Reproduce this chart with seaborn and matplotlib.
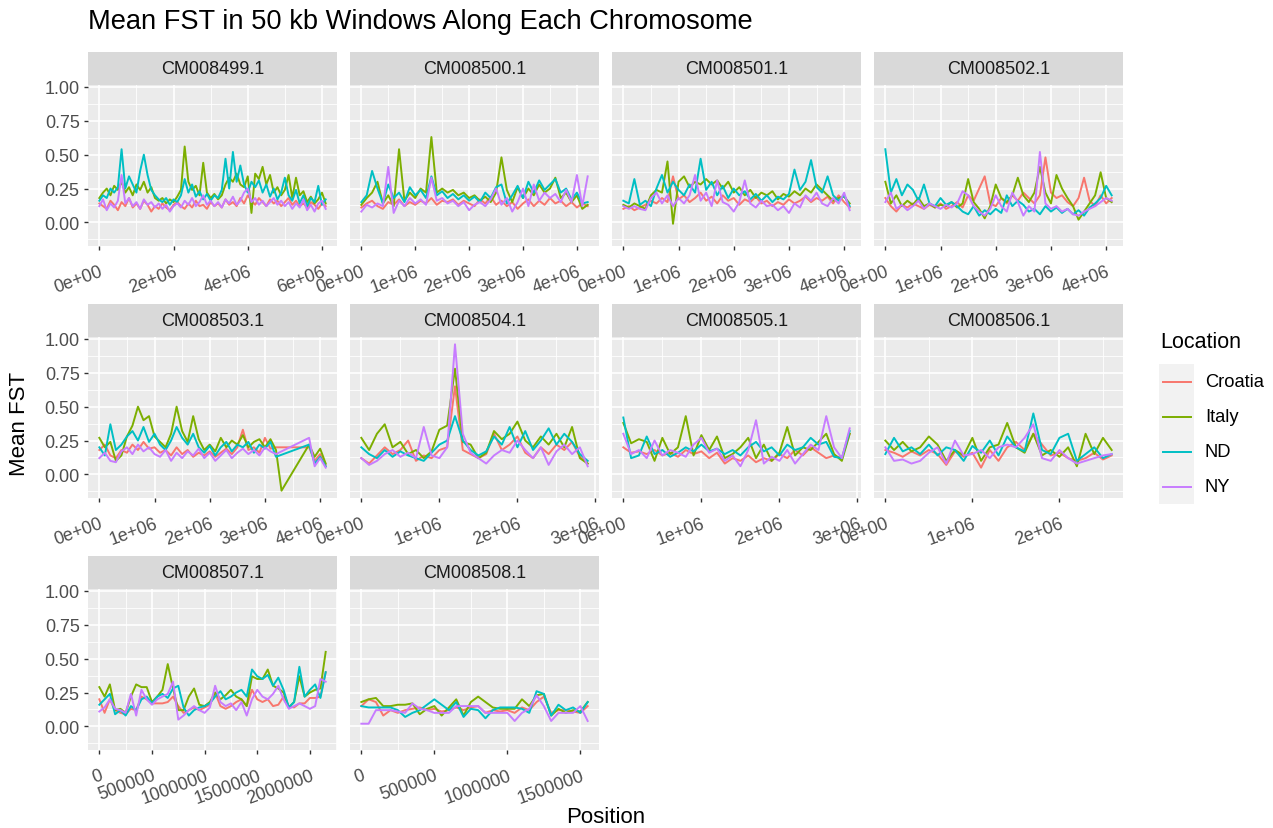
import numpy as np
import pandas as pd
import matplotlib
matplotlib.use("Agg")
import matplotlib.pyplot as plt
import seaborn as sns

plt.rcParams['font.family'] = ['Liberation Sans', 'DejaVu Sans']

# ---------------- data ----------------
CHROMS = ["CM008499.1", "CM008500.1", "CM008501.1", "CM008502.1", "CM008503.1",
          "CM008504.1", "CM008505.1", "CM008506.1", "CM008507.1", "CM008508.1"]
LOCATIONS = ["Croatia", "Italy", "ND", "NY"]
WINDOW_STEP = [100000, 100000, 100000, 100000, 100000,
               100000, 100000, 100000, 50000, 50000]

XTICK_LABELS = [
    ["0e+00", "2e+06", "4e+06", "6e+06"],
    ["0e+00", "1e+06", "2e+06", "3e+06", "4e+06"],
    ["0e+00", "1e+06", "2e+06", "3e+06", "4e+06"],
    ["0e+00", "1e+06", "2e+06", "3e+06", "4e+06"],
    ["0e+00", "1e+06", "2e+06", "3e+06", "4e+06"],
    ["0e+00", "1e+06", "2e+06", "3e+06"],
    ["0e+00", "1e+06", "2e+06", "3e+06"],
    ["0e+00", "1e+06", "2e+06"],
    ["0", "500000", "1000000", "1500000", "2000000"],
    ["0", "500000", "1000000", "1500000"],
]
YTICK_LABELS = ["0.00", "0.25", "0.50", "0.75", "1.00"]

cro_8499 = [0.14, 0.12, 0.10, 0.16, 0.13, 0.09, 0.15, 0.12, 0.18, 0.11,
            0.14, 0.10, 0.16, 0.13, 0.08, 0.12, 0.10, 0.14, 0.11, 0.09,
            0.13, 0.15, 0.12, 0.10, 0.14, 0.11, 0.16, 0.12, 0.13, 0.10,
            0.15, 0.12, 0.14, 0.11, 0.17, 0.13, 0.15, 0.12, 0.18, 0.14,
            0.20, 0.16, 0.13, 0.18, 0.15, 0.12, 0.17, 0.14, 0.16, 0.12,
            0.15, 0.18, 0.13, 0.16, 0.12, 0.14, 0.11, 0.15, 0.13, 0.10,
            0.14, 0.12]
ita_8499 = [0.18, 0.22, 0.25, 0.20, 0.27, 0.24, 0.30, 0.22, 0.26, 0.20,
            0.28, 0.24, 0.30, 0.22, 0.26, 0.18, 0.16, 0.18, 0.14, 0.17,
            0.15, 0.19, 0.24, 0.56, 0.30, 0.24, 0.27, 0.20, 0.44, 0.22,
            0.18, 0.21, 0.17, 0.20, 0.28, 0.33, 0.30, 0.36, 0.28, 0.26,
            0.34, 0.07, 0.36, 0.32, 0.41, 0.28, 0.35, 0.22, 0.26, 0.20,
            0.24, 0.35, 0.18, 0.33, 0.20, 0.23, 0.15, 0.19, 0.14, 0.17,
            0.22, 0.14]
nd_8499 = [0.16, 0.20, 0.18, 0.25, 0.22, 0.26, 0.54, 0.25, 0.34, 0.28,
           0.22, 0.38, 0.50, 0.35, 0.24, 0.20, 0.17, 0.15, 0.18, 0.13,
           0.17, 0.15, 0.20, 0.32, 0.22, 0.28, 0.19, 0.23, 0.17, 0.21,
           0.16, 0.20, 0.18, 0.24, 0.47, 0.25, 0.52, 0.30, 0.42, 0.28,
           0.22, 0.30, 0.26, 0.31, 0.22, 0.28, 0.19, 0.25, 0.17, 0.22,
           0.33, 0.20, 0.16, 0.24, 0.14, 0.20, 0.12, 0.18, 0.15, 0.27,
           0.13, 0.17]
ny_8499 = [0.12, 0.17, 0.09, 0.14, 0.11, 0.16, 0.35, 0.14, 0.18, 0.12,
           0.15, 0.10, 0.17, 0.13, 0.15, 0.11, 0.14, 0.10, 0.13, 0.08,
           0.12, 0.14, 0.11, 0.16, 0.13, 0.18, 0.12, 0.15, 0.20, 0.13,
           0.16, 0.12, 0.15, 0.11, 0.17, 0.14, 0.19, 0.13, 0.16, 0.22,
           0.25, 0.15, 0.18, 0.13, 0.16, 0.12, 0.15, 0.18, 0.13, 0.16,
           0.12, 0.15, 0.10, 0.14, 0.11, 0.17, 0.09, 0.13, 0.08, 0.14,
           0.16, 0.10]

cro_8500 = [0.11, 0.14, 0.16, 0.12, 0.10, 0.15, 0.13, 0.17, 0.12, 0.15,
            0.13, 0.16, 0.14, 0.18, 0.13, 0.16, 0.15, 0.17, 0.13, 0.16,
            0.14, 0.12, 0.17, 0.14, 0.19, 0.13, 0.16, 0.12, 0.15, 0.10,
            0.14, 0.17, 0.12, 0.16, 0.13, 0.18, 0.14, 0.16, 0.12, 0.15,
            0.11, 0.14, 0.12]
ita_8500 = [0.13, 0.18, 0.22, 0.30, 0.14, 0.20, 0.12, 0.54, 0.16, 0.22,
            0.18, 0.25, 0.22, 0.63, 0.22, 0.25, 0.22, 0.24, 0.20, 0.22,
            0.18, 0.20, 0.16, 0.19, 0.15, 0.22, 0.48, 0.24, 0.15, 0.26,
            0.18, 0.25, 0.20, 0.28, 0.22, 0.25, 0.33, 0.18, 0.22, 0.15,
            0.20, 0.10, 0.13]
nd_8500 = [0.15, 0.20, 0.38, 0.25, 0.14, 0.28, 0.18, 0.22, 0.15, 0.26,
           0.20, 0.24, 0.18, 0.34, 0.20, 0.23, 0.18, 0.21, 0.17, 0.20,
           0.16, 0.19, 0.15, 0.22, 0.18, 0.26, 0.28, 0.14, 0.20, 0.27,
           0.18, 0.30, 0.22, 0.31, 0.24, 0.28, 0.32, 0.22, 0.25, 0.17,
           0.22, 0.14, 0.15]
ny_8500 = [0.08, 0.13, 0.11, 0.14, 0.12, 0.41, 0.07, 0.16, 0.12, 0.18,
           0.14, 0.17, 0.13, 0.33, 0.16, 0.18, 0.14, 0.16, 0.12, 0.15,
           0.09, 0.13, 0.15, 0.12, 0.17, 0.25, 0.13, 0.18, 0.08, 0.15,
           0.25, 0.12, 0.28, 0.16, 0.22, 0.18, 0.21, 0.15, 0.24, 0.15,
           0.35, 0.12, 0.34]

cro_8501 = [0.10, 0.12, 0.09, 0.11, 0.13, 0.16, 0.14, 0.18, 0.15, 0.34,
            0.17, 0.20, 0.15, 0.18, 0.22, 0.16, 0.19, 0.14, 0.20, 0.16,
            0.18, 0.13, 0.17, 0.15, 0.19, 0.14, 0.16, 0.12, 0.15, 0.13,
            0.17, 0.14, 0.16, 0.19, 0.15, 0.18, 0.16, 0.19, 0.14, 0.20,
            0.15, 0.11]
ita_8501 = [0.13, 0.11, 0.14, 0.12, 0.10, 0.20, 0.24, 0.22, 0.45, -0.01,
            0.30, 0.34, 0.26, 0.30, 0.28, 0.32, 0.28, 0.31, 0.25, 0.30,
            0.22, 0.26, 0.20, 0.24, 0.18, 0.22, 0.20, 0.23, 0.17, 0.21,
            0.19, 0.23, 0.20, 0.25, 0.22, 0.28, 0.24, 0.20, 0.16, 0.18,
            0.19, 0.14]
nd_8501 = [0.16, 0.14, 0.32, 0.13, 0.16, 0.12, 0.25, 0.35, 0.22, 0.30,
           0.24, 0.20, 0.28, 0.22, 0.47, 0.24, 0.30, 0.20, 0.27, 0.18,
           0.25, 0.20, 0.23, 0.17, 0.21, 0.16, 0.20, 0.15, 0.19, 0.17,
           0.21, 0.39, 0.24, 0.30, 0.46, 0.26, 0.22, 0.34, 0.20, 0.16,
           0.20, 0.12]
ny_8501 = [0.12, 0.10, 0.12, 0.10, 0.09, 0.18, 0.22, 0.14, 0.20, 0.12,
           0.18, 0.14, 0.20, 0.35, 0.16, 0.22, 0.12, 0.31, 0.15, 0.13,
           0.08, 0.15, 0.31, 0.14, 0.11, 0.16, 0.12, 0.13, 0.09, 0.12,
           0.07, 0.14, 0.11, 0.20, 0.16, 0.22, 0.14, 0.12, 0.18, 0.14,
           0.22, 0.09]

cro_8502 = [0.18, 0.12, 0.08, 0.13, 0.11, 0.14, 0.12, 0.10, 0.13, 0.11,
            0.14, 0.10, 0.12, 0.15, 0.11, 0.20, 0.16, 0.25, 0.34, 0.14,
            0.12, 0.18, 0.14, 0.20, 0.16, 0.22, 0.18, 0.14, 0.20, 0.48,
            0.22, 0.18, 0.20, 0.15, 0.12, 0.18, 0.33, 0.16, 0.12, 0.20,
            0.14, 0.18]
ita_8502 = [0.30, 0.14, 0.20, 0.12, 0.16, 0.13, 0.18, 0.12, 0.14, 0.11,
            0.13, 0.12, 0.15, 0.11, 0.14, 0.32, 0.15, 0.10, 0.03, 0.12,
            0.28, 0.18, 0.15, 0.20, 0.33, 0.20, 0.15, 0.22, 0.41, 0.22,
            0.14, 0.35, 0.25, 0.18, 0.12, 0.02, 0.08, 0.14, 0.20, 0.37,
            0.18, 0.15]
nd_8502 = [0.54, 0.22, 0.32, 0.20, 0.28, 0.24, 0.16, 0.28, 0.14, 0.12,
           0.18, 0.13, 0.15, 0.12, 0.08, 0.06, 0.12, 0.05, 0.09, 0.06,
           0.10, 0.07, 0.20, 0.12, 0.16, 0.13, 0.08, 0.10, 0.06, 0.12,
           0.08, 0.11, 0.07, 0.10, 0.06, 0.09, 0.05, 0.11, 0.14, 0.18,
           0.27, 0.20]
ny_8502 = [0.15, 0.22, 0.10, 0.13, 0.09, 0.12, 0.16, 0.10, 0.14, 0.12,
           0.10, 0.13, 0.11, 0.14, 0.23, 0.20, 0.12, 0.08, 0.05, 0.10,
           0.20, 0.12, 0.08, 0.22, 0.15, 0.05, 0.12, 0.08, 0.52, 0.14,
           0.10, 0.12, 0.08, 0.10, 0.06, 0.05, 0.08, 0.10, 0.12, 0.15,
           0.18, 0.16]

cro_8503 = [0.18, 0.22, 0.14, 0.12, 0.18, 0.16, 0.22, 0.18, 0.24, 0.19,
            0.20, 0.16, 0.18, 0.14, 0.20, 0.15, 0.18, 0.13, 0.16, 0.14,
            0.17, 0.13, 0.16, 0.19, 0.15, 0.20, 0.33, 0.18, 0.20, 0.16,
            0.27, 0.19, 0.20, None, None, None, None, None, 0.20, 0.10,
            0.15, 0.07]
ita_8503 = [0.27, 0.20, 0.24, 0.10, 0.14, 0.28, 0.36, 0.50, 0.40, 0.43,
            0.28, 0.24, 0.20, 0.30, 0.50, 0.32, 0.24, 0.43, 0.26, 0.18,
            0.22, 0.17, 0.27, 0.20, 0.25, 0.22, 0.29, 0.20, 0.24, 0.26,
            0.20, 0.26, 0.18, -0.12, None, None, None, None, 0.22, 0.13,
            0.19, 0.08]
nd_8503 = [0.20, 0.14, 0.37, 0.18, 0.22, 0.28, 0.32, 0.25, 0.35, 0.24,
           0.30, 0.22, 0.18, 0.25, 0.35, 0.27, 0.22, 0.30, 0.20, 0.16,
           0.21, 0.14, 0.20, 0.24, 0.17, 0.22, 0.20, 0.24, 0.16, 0.22,
           0.19, 0.24, 0.13, None, None, None, None, None, 0.22, 0.08,
           0.13, 0.06]
ny_8503 = [0.12, 0.16, 0.10, 0.09, 0.17, 0.20, 0.15, 0.22, 0.17, 0.20,
           0.15, 0.13, 0.18, 0.10, 0.16, 0.12, 0.17, 0.14, 0.19, 0.12,
           0.16, 0.10, 0.14, 0.18, 0.12, 0.16, 0.19, 0.15, 0.18, 0.14,
           0.20, 0.17, 0.15, None, None, None, None, None, 0.27, 0.06,
           0.12, 0.05]

cro_8504 = [0.12, 0.08, 0.14, 0.20, 0.15, 0.18, 0.25, 0.10, 0.14, 0.12,
            0.18, 0.20, 0.65, 0.18, 0.15, 0.12, 0.15, 0.30, 0.18, 0.22,
            0.28, 0.16, 0.12, 0.20, 0.15, 0.22, 0.18, 0.24, 0.13, 0.08]
ita_8504 = [0.27, 0.18, 0.30, 0.37, 0.20, 0.24, 0.15, 0.18, 0.12, 0.17,
            0.33, 0.36, 0.78, 0.24, 0.22, 0.12, 0.16, 0.32, 0.26, 0.30,
            0.39, 0.25, 0.20, 0.28, 0.22, 0.30, 0.20, 0.35, 0.12, 0.08]
nd_8504 = [0.20, 0.15, 0.12, 0.18, 0.13, 0.17, 0.14, 0.12, 0.10, 0.16,
           0.22, 0.25, 0.43, 0.25, 0.18, 0.14, 0.17, 0.28, 0.22, 0.35,
           0.20, 0.32, 0.18, 0.25, 0.34, 0.22, 0.30, 0.24, 0.15, 0.10]
ny_8504 = [0.12, 0.07, 0.10, 0.15, 0.18, 0.13, 0.16, 0.12, 0.35, 0.14,
           0.12, 0.20, 0.96, 0.30, 0.16, 0.12, 0.08, 0.14, 0.18, 0.16,
           0.25, 0.18, 0.12, 0.20, 0.07, 0.17, 0.22, 0.15, 0.20, 0.06]

cro_8505 = [0.20, 0.16, 0.17, 0.15, 0.18, 0.14, 0.16, 0.13, 0.18, 0.15,
            0.17, 0.12, 0.16, 0.08, 0.12, 0.10, 0.14, 0.09, 0.12, 0.10,
            0.15, 0.12, 0.18, 0.14, 0.20, 0.16, 0.12, 0.14, 0.12, 0.30]
ita_8505 = [0.38, 0.23, 0.26, 0.24, 0.10, 0.27, 0.15, 0.20, 0.43, 0.14,
            0.29, 0.18, 0.28, 0.12, 0.15, 0.20, 0.27, 0.12, 0.22, 0.10,
            0.16, 0.35, 0.14, 0.20, 0.18, 0.24, 0.30, 0.15, 0.10, 0.30]
nd_8505 = [0.42, 0.12, 0.14, 0.28, 0.15, 0.18, 0.13, 0.16, 0.20, 0.17,
           0.22, 0.17, 0.19, 0.15, 0.18, 0.14, 0.20, 0.24, 0.17, 0.20,
           0.14, 0.22, 0.18, 0.20, 0.27, 0.22, 0.24, 0.13, 0.12, 0.32]
ny_8505 = [0.30, 0.15, 0.18, 0.12, 0.25, 0.14, 0.18, 0.16, 0.13, 0.22,
           0.27, 0.16, 0.19, 0.10, 0.14, 0.06, 0.18, 0.40, 0.08, 0.13,
           0.10, 0.18, 0.08, 0.15, 0.22, 0.18, 0.43, 0.20, 0.12, 0.34]

cro_8506 = [0.18, 0.16, 0.13, 0.17, 0.14, 0.18, 0.15, 0.07, 0.17, 0.13,
            0.16, 0.05, 0.18, 0.10, 0.20, 0.24, 0.18, 0.30, 0.22, 0.14,
            0.16, 0.12, 0.10, 0.12, 0.16, 0.11, 0.14]
ita_8506 = [0.25, 0.18, 0.24, 0.17, 0.20, 0.28, 0.22, 0.10, 0.18, 0.14,
            0.27, 0.10, 0.20, 0.22, 0.38, 0.20, 0.16, 0.30, 0.14, 0.18,
            0.13, 0.20, 0.06, 0.30, 0.15, 0.27, 0.18]
nd_8506 = [0.15, 0.27, 0.17, 0.20, 0.15, 0.22, 0.14, 0.20, 0.18, 0.10,
           0.21, 0.16, 0.25, 0.14, 0.28, 0.20, 0.17, 0.45, 0.18, 0.15,
           0.27, 0.30, 0.10, 0.15, 0.20, 0.12, 0.15]
ny_8506 = [0.20, 0.10, 0.11, 0.08, 0.10, 0.16, 0.20, 0.08, 0.25, 0.14,
           0.15, 0.18, 0.12, 0.20, 0.22, 0.20, 0.27, 0.37, 0.12, 0.10,
           0.18, 0.12, 0.08, 0.10, 0.12, 0.14, 0.15]

cro_8507 = [0.20, 0.10, 0.20, 0.12, 0.10, 0.09, 0.13, 0.12, 0.22, 0.20,
            0.17, 0.17, 0.17, 0.18, 0.22, 0.15, 0.10, 0.12, 0.14, 0.12,
            0.14, 0.16, 0.25, 0.15, 0.13, 0.15, 0.18, 0.20, 0.15, 0.27,
            0.20, 0.18, 0.20, 0.15, 0.16, 0.22, 0.15, 0.14, 0.17, 0.17,
            0.21, 0.21, 0.22, 0.40]
ita_8507 = [0.29, 0.22, 0.31, 0.12, 0.13, 0.10, 0.22, 0.31, 0.29, 0.29,
            0.18, 0.22, 0.27, 0.46, 0.28, 0.12, 0.12, 0.22, 0.28, 0.16,
            0.15, 0.18, 0.25, 0.20, 0.23, 0.27, 0.22, 0.20, 0.15, 0.37,
            0.35, 0.35, 0.42, 0.30, 0.28, 0.25, 0.14, 0.18, 0.37, 0.22,
            0.25, 0.27, 0.28, 0.55]
nd_8507 = [0.16, 0.20, 0.24, 0.09, 0.12, 0.08, 0.15, 0.12, 0.20, 0.22,
           0.17, 0.22, 0.24, 0.21, 0.28, 0.30, 0.14, 0.08, 0.12, 0.14,
           0.15, 0.17, 0.22, 0.26, 0.20, 0.22, 0.25, 0.27, 0.22, 0.42,
           0.37, 0.35, 0.38, 0.30, 0.36, 0.27, 0.14, 0.18, 0.44, 0.22,
           0.27, 0.31, 0.21, 0.40]
ny_8507 = [0.11, 0.14, 0.20, 0.13, 0.12, 0.10, 0.24, 0.08, 0.27, 0.20,
           0.16, 0.20, 0.22, 0.24, 0.33, 0.05, 0.08, 0.12, 0.15, 0.12,
           0.10, 0.14, 0.30, 0.18, 0.15, 0.17, 0.12, 0.18, 0.08, 0.20,
           0.27, 0.22, 0.20, 0.24, 0.30, 0.20, 0.13, 0.15, 0.17, 0.15,
           0.13, 0.15, 0.35, 0.33]

cro_8508 = [0.15, 0.20, 0.18, 0.08, 0.12, 0.10, 0.12, 0.13, 0.14, 0.12,
            0.13, 0.11, 0.12, 0.14, 0.12, 0.14, 0.15, 0.10, 0.12, 0.11,
            0.12, 0.10, 0.14, 0.12, 0.18, 0.22, 0.10, 0.12, 0.12, 0.11,
            0.10, 0.15]
ita_8508 = [0.18, 0.20, 0.21, 0.15, 0.15, 0.16, 0.16, 0.17, 0.09, 0.13,
            0.15, 0.08, 0.14, 0.20, 0.08, 0.18, 0.22, 0.18, 0.14, 0.13,
            0.13, 0.13, 0.20, 0.15, 0.23, 0.24, 0.08, 0.13, 0.10, 0.12,
            0.11, 0.18]
nd_8508 = [0.15, 0.14, 0.14, 0.14, 0.14, 0.12, 0.07, 0.10, 0.12, 0.16,
           0.20, 0.16, 0.12, 0.18, 0.07, 0.13, 0.12, 0.06, 0.12, 0.14,
           0.14, 0.14, 0.13, 0.10, 0.26, 0.24, 0.08, 0.16, 0.12, 0.14,
           0.10, 0.18]
ny_8508 = [0.02, 0.02, 0.12, 0.12, 0.12, 0.11, 0.10, 0.17, 0.13, 0.12,
           0.10, 0.10, 0.10, 0.15, 0.15, 0.15, 0.15, 0.10, 0.10, 0.10,
           0.10, 0.04, 0.10, 0.13, 0.23, 0.15, 0.04, 0.10, 0.10, 0.10,
           0.15, 0.04]

SERIES = {
    "CM008499.1": [cro_8499, ita_8499, nd_8499, ny_8499],
    "CM008500.1": [cro_8500, ita_8500, nd_8500, ny_8500],
    "CM008501.1": [cro_8501, ita_8501, nd_8501, ny_8501],
    "CM008502.1": [cro_8502, ita_8502, nd_8502, ny_8502],
    "CM008503.1": [cro_8503, ita_8503, nd_8503, ny_8503],
    "CM008504.1": [cro_8504, ita_8504, nd_8504, ny_8504],
    "CM008505.1": [cro_8505, ita_8505, nd_8505, ny_8505],
    "CM008506.1": [cro_8506, ita_8506, nd_8506, ny_8506],
    "CM008507.1": [cro_8507, ita_8507, nd_8507, ny_8507],
    "CM008508.1": [cro_8508, ita_8508, nd_8508, ny_8508],
}

PALETTE = {"Croatia": "#F8766D", "Italy": "#7CAE00", "ND": "#00BFC4", "NY": "#C77CFF"}

rows = []
for ci, chrom in enumerate(CHROMS):
    for loc, vals in zip(LOCATIONS, SERIES[chrom]):
        for i, v in enumerate(vals):
            if v is None:
                continue
            rows.append((chrom, loc, i * WINDOW_STEP[ci], v))
df = pd.DataFrame(rows, columns=["chrom", "Location", "Position", "FST"])

# ---------------- layout ----------------
W, H = 1273, 829
fig = plt.figure(figsize=(W / 100, H / 100), dpi=100)
fig.patch.set_facecolor("white")


def box(x, y, w, h):
    return fig.add_axes([x / W, 1 - (y + h) / H, w / W, h / H])


COL_X = [88, 350, 612, 874]
STRIP_Y = [53, 305, 557]
PANEL_W, STRIP_H, PANEL_H = 249, 33, 161

ymin, ymax = df["FST"].min(), df["FST"].max()
yr = ymax - ymin
ylim = (ymin - 0.05 * yr, ymax + 0.05 * yr)
yticks = [float(t) for t in YTICK_LABELS]
ystep = yticks[1] - yticks[0]
yminor = [v for v in np.arange(yticks[0] - ystep / 2, yticks[-1] + ystep, ystep)
          if ylim[0] <= v <= ylim[1]]

TXT = "#4D4D4D"
for ci, chrom in enumerate(CHROMS):
    r, c = divmod(ci, 4)
    x0, sy = COL_X[c], STRIP_Y[r]
    # strip
    sax = box(x0, sy, PANEL_W, STRIP_H)
    sax.set_facecolor("#D9D9D9")
    sax.set_xticks([]); sax.set_yticks([])
    for s in sax.spines.values():
        s.set_visible(False)
    sax.text(0.5, 0.5, chrom, ha="center", va="center", fontsize=13, color="#1A1A1A",
             transform=sax.transAxes)
    # panel
    ax = box(x0, sy + STRIP_H, PANEL_W, PANEL_H)
    ax.set_facecolor("#EBEBEB")
    sub = df[df["chrom"] == chrom]
    sns.lineplot(data=sub, x="Position", y="FST", hue="Location", hue_order=LOCATIONS,
                 palette=PALETTE, estimator=None, errorbar=None, legend=False,
                 linewidth=1.4, ax=ax)
    xmn, xmx = sub["Position"].min(), sub["Position"].max()
    xr = xmx - xmn
    xlim = (xmn - 0.05 * xr, xmx + 0.05 * xr)
    ax.set_xlim(xlim)
    ax.set_ylim(ylim)
    xt = [float(t) for t in XTICK_LABELS[ci]]
    xs = xt[1] - xt[0]
    xminor = [v for v in np.arange(xt[0] - xs / 2, xt[-1] + xs, xs) if xlim[0] <= v <= xlim[1]]
    ax.set_xticks(xt)
    ax.set_xticklabels(XTICK_LABELS[ci])
    ax.set_xticks(xminor, minor=True)
    ax.set_yticks(yticks)
    ax.set_yticks(yminor, minor=True)
    ax.set_yticklabels(YTICK_LABELS)
    ax.grid(which="major", color="white", linewidth=1.2)
    ax.grid(which="minor", color="white", linewidth=0.6)
    ax.set_axisbelow(True)
    for s in ax.spines.values():
        s.set_visible(False)
    ax.set_xlabel("")
    ax.set_ylabel("")
    ax.tick_params(which="minor", length=0)
    ax.tick_params(axis="x", which="major", length=3, width=1, color="#333333",
                   labelsize=12.8, labelcolor=TXT, pad=9)
    if c == 0:
        ax.tick_params(axis="y", which="major", length=3, width=1, color="#333333",
                       labelsize=13, labelcolor=TXT, pad=3)
    else:
        ax.tick_params(axis="y", which="major", length=0, labelleft=False)
    for lab in ax.get_xticklabels():
        lab.set_rotation(20)
        lab.set_ha("right")
        lab.set_rotation_mode("anchor")

# titles
fig.text(88 / W, 1 - 22 / H, "Mean FST in 50 kb Windows Along Each Chromosome",
         fontsize=19.6, ha="left", va="center", color="black")
fig.text(20 / W, 1 - 424 / H, "Mean FST", rotation=90, fontsize=16,
         ha="center", va="center", color="black")
fig.text(606 / W, 1 - 818 / H, "Position", fontsize=16, ha="center", va="center",
         color="black")

# legend
fig.text(1160 / W, 1 - 343 / H, "Location", fontsize=15.5, ha="left", va="center")
lax = box(1159, 365, 35, 140)
lax.set_facecolor("#F2F2F2")
lax.set_xlim(0, 1)
lax.set_ylim(len(LOCATIONS), 0)
lax.set_xticks([]); lax.set_yticks([])
for s in lax.spines.values():
    s.set_visible(False)
for k, loc in enumerate(LOCATIONS):
    lax.plot([0.12, 0.9], [k + 0.5, k + 0.5], color=PALETTE[loc], linewidth=1.4)
    fig.text(1205 / W, 1 - (383 + 35 * k) / H, loc, fontsize=13.2, ha="left",
             va="center", color="black")

fig.savefig("out.png", dpi=100, facecolor="white")
